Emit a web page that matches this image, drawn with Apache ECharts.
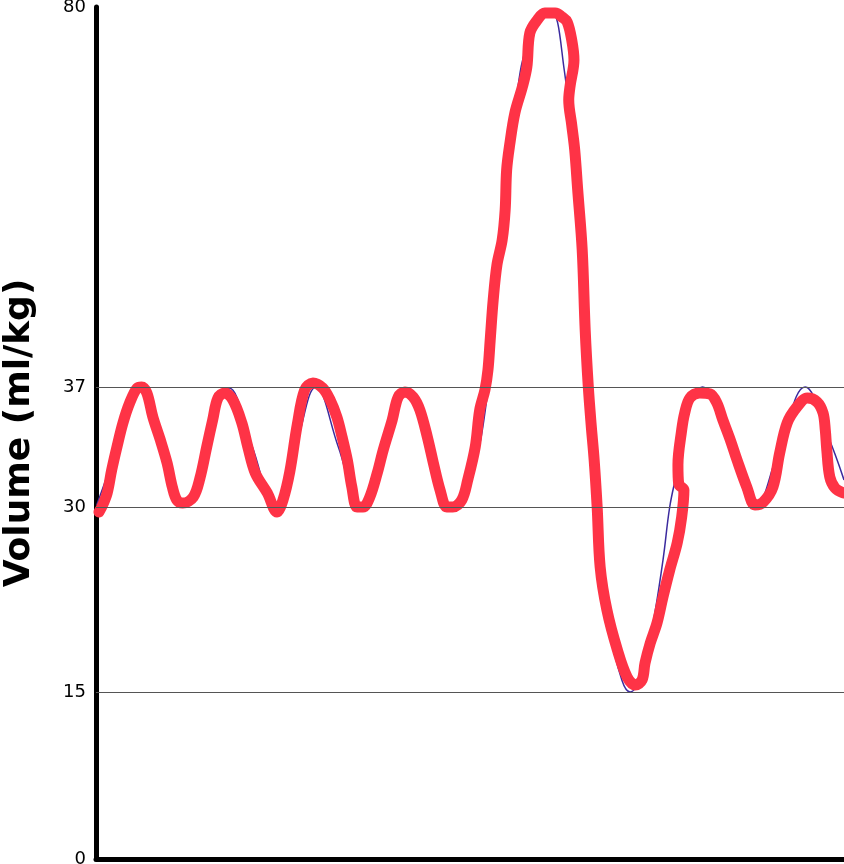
<!DOCTYPE html>
<html>
<head>
<meta charset="utf-8">
<script src="https://cdn.jsdelivr.net/npm/echarts@6/dist/echarts.min.js"></script>
<style>
html,body{margin:0;padding:0;background:#fff;}
#chart{width:844px;height:864px;}
</style>
</head>
<body>
<div id="chart"></div>
<script>
// ---- data (time in arbitrary units 0..100, volume in ml/kg) ----
const redTime = [0.4,0.9,1.5,2.1,2.8,3.6,4.5,5.5,6.1,6.8,7.6,8.6,9.5,10.2,10.8,11.6,13.0,13.9,14.8,15.6,16.3,17.2,18.3,19.5,20.3,21.3,22.9,24.2,25.0,25.9,26.9,27.9,29.0,30.3,31.3,32.2,32.9,33.6,34.2,34.9,35.7,36.6,37.6,38.4,39.6,40.4,41.3,42.4,43.3,44.3,45.1,46.0,46.9,47.7,48.9,49.7,50.7,51.3,52.0,52.4,52.7,53.1,53.6,54.3,54.7,54.9,55.3,56.0,57.0,57.6,58.0,59.0,60.0,61.4,62.3,63.0,63.6,63.9,63.4,63.2,63.6,64.0,64.4,65.0,65.4,65.8,66.2,66.6,67.0,67.4,68.3,69.7,71.0,72.1,73.0,73.4,74.1,75.0,75.8,76.7,77.7,78.3,78.6,77.9,77.8,78.3,78.7,79.4,80.7,82.1,83.0,83.8,84.8,85.7,87.0,88.1,89.2,90.5,91.4,92.4,93.7,95.1,96.4,97.2,97.5,97.7,98.1,98.8,99.9];
const redVolume = [29.59,30.12,30.82,32.16,33.50,34.90,36.07,36.94,37.00,36.65,35.25,33.91,32.57,31.17,30.41,30.23,30.58,31.69,33.50,35.08,36.36,36.65,36.24,34.90,33.50,31.98,30.82,29.59,30.41,32.04,34.78,36.83,37.45,36.94,36.24,35.25,34.08,32.74,31.17,30.00,30.00,30.58,31.98,33.33,35.08,36.42,36.71,36.42,35.66,34.08,32.57,30.99,30.00,30.00,30.41,31.58,33.50,35.66,36.83,38.92,42.32,46.84,50.81,53.63,57.03,61.56,64.38,68.01,70.95,73.21,77.06,78.53,79.32,79.32,78.87,78.30,76.27,74.00,71.17,69.48,66.65,63.82,59.29,52.50,43.45,37.23,34.78,32.74,30.00,25.14,21.65,18.41,16.22,15.57,15.97,17.35,18.97,20.59,22.70,24.89,27.08,29.19,30.99,31.34,32.45,34.49,35.48,36.36,36.65,36.59,36.07,35.08,33.91,32.74,31.17,30.12,30.29,31.17,33.15,34.90,35.83,36.36,36.13,35.48,34.49,33.33,31.75,31.11,30.82];

const blueTime = [0.1,2.9,5.9,8.8,11.8,14.8,17.8,20.9,23.9,26.7,29.4,32.4,35.3,38.4,41.3,44.4,47.3,50.0,52.4,54.0,56.0,58.0,60.7,62.6,63.9,65.1,66.0,67.1,68.7,70.3,71.4,72.7,74.3,75.8,76.7,77.7,79.1,81.1,84.6,88.1,91.4,94.8,97.9,100];
const blueVolume = [30.12,33.5,37,33.5,30,33.5,36.94,33.5,30,33.5,37,33.5,30,33.5,36.94,33.5,30,31.58,36.83,52.5,68.35,76.83,79.7,72.87,61.56,46.84,35.08,28.14,20.03,15.97,15,15.97,20.03,25.7,30,32.16,35.66,37,33.5,30,33.5,37,34.08,31.58];

const tickVolumes = [0, 15, 30, 37, 80];
const gridVolumes = [15, 30, 37];

// ---- non-linear (schematic) volume scale: piecewise linear between labelled volumes ----
const scaleStops = [0, 167, 352, 472, 852];
function toAxis(v) {
  for (let i = 0; i < tickVolumes.length - 1; i++) {
    const a = tickVolumes[i], b = tickVolumes[i + 1];
    if (v <= b || i === tickVolumes.length - 2) {
      return scaleStops[i] + (v - a) / (b - a) * (scaleStops[i + 1] - scaleStops[i]);
    }
  }
}
function fromAxis(d) {
  for (let i = 0; i < scaleStops.length - 1; i++) {
    const a = scaleStops[i], b = scaleStops[i + 1];
    if (d <= b + 0.001 || i === scaleStops.length - 2) {
      return tickVolumes[i] + (d - a) / (b - a) * (tickVolumes[i + 1] - tickVolumes[i]);
    }
  }
}

const redData = redTime.map((t, i) => [t, toAxis(redVolume[i])]);
const blueData = blueTime.map((t, i) => [t, toAxis(blueVolume[i])]);

const chart = echarts.init(document.getElementById('chart'), null, {renderer: 'canvas'});
chart.setOption({
  animation: false,
  backgroundColor: '#ffffff',
  grid: {left: 96, right: 0, top: 7, bottom: 5, containLabel: false, outerBoundsMode: 'none'},
  xAxis: {
    type: 'value', min: 0, max: 100,
    axisLine: {show: true, onZero: false, lineStyle: {color: '#000', width: 5}},
    axisTick: {show: false}, axisLabel: {show: false}, splitLine: {show: false}
  },
  yAxis: {
    type: 'value', min: 0, max: scaleStops[scaleStops.length - 1],
    name: 'Volume (ml/kg)', nameLocation: 'middle', nameGap: 58,
    nameTextStyle: {fontFamily: 'DejaVu Sans', fontSize: 36, fontWeight: 'bold', color: '#000'},
    axisLine: {show: true, lineStyle: {color: '#000', width: 5}},
    axisTick: {show: false, customValues: tickVolumes.map(toAxis)},
    splitLine: {show: false},
    axisLabel: {
      customValues: tickVolumes.map(toAxis),
      formatter: (val) => String(Math.round(fromAxis(val))),
      fontFamily: 'DejaVu Sans', fontSize: 18, color: '#000', margin: 10
    }
  },
  series: [
    {
      type: 'line', name: 'ideal', data: blueData, smooth: 0.4, showSymbol: false, clip: false, z: 2,
      lineStyle: {color: '#3b2a9e', width: 1.5},
      markLine: {
        silent: true, symbol: 'none', label: {show: false},
        lineStyle: {color: '#555', width: 1, type: 'solid'},
        data: gridVolumes.map(v => ({yAxis: toAxis(v)}))
      }
    },
    {
      type: 'line', name: 'drawn', data: redData, smooth: 0.35, showSymbol: false, clip: false, z: 3,
      lineStyle: {color: '#fe3346', width: 11, cap: 'round', join: 'round'}
    }
  ]
});
</script>
</body>
</html>
